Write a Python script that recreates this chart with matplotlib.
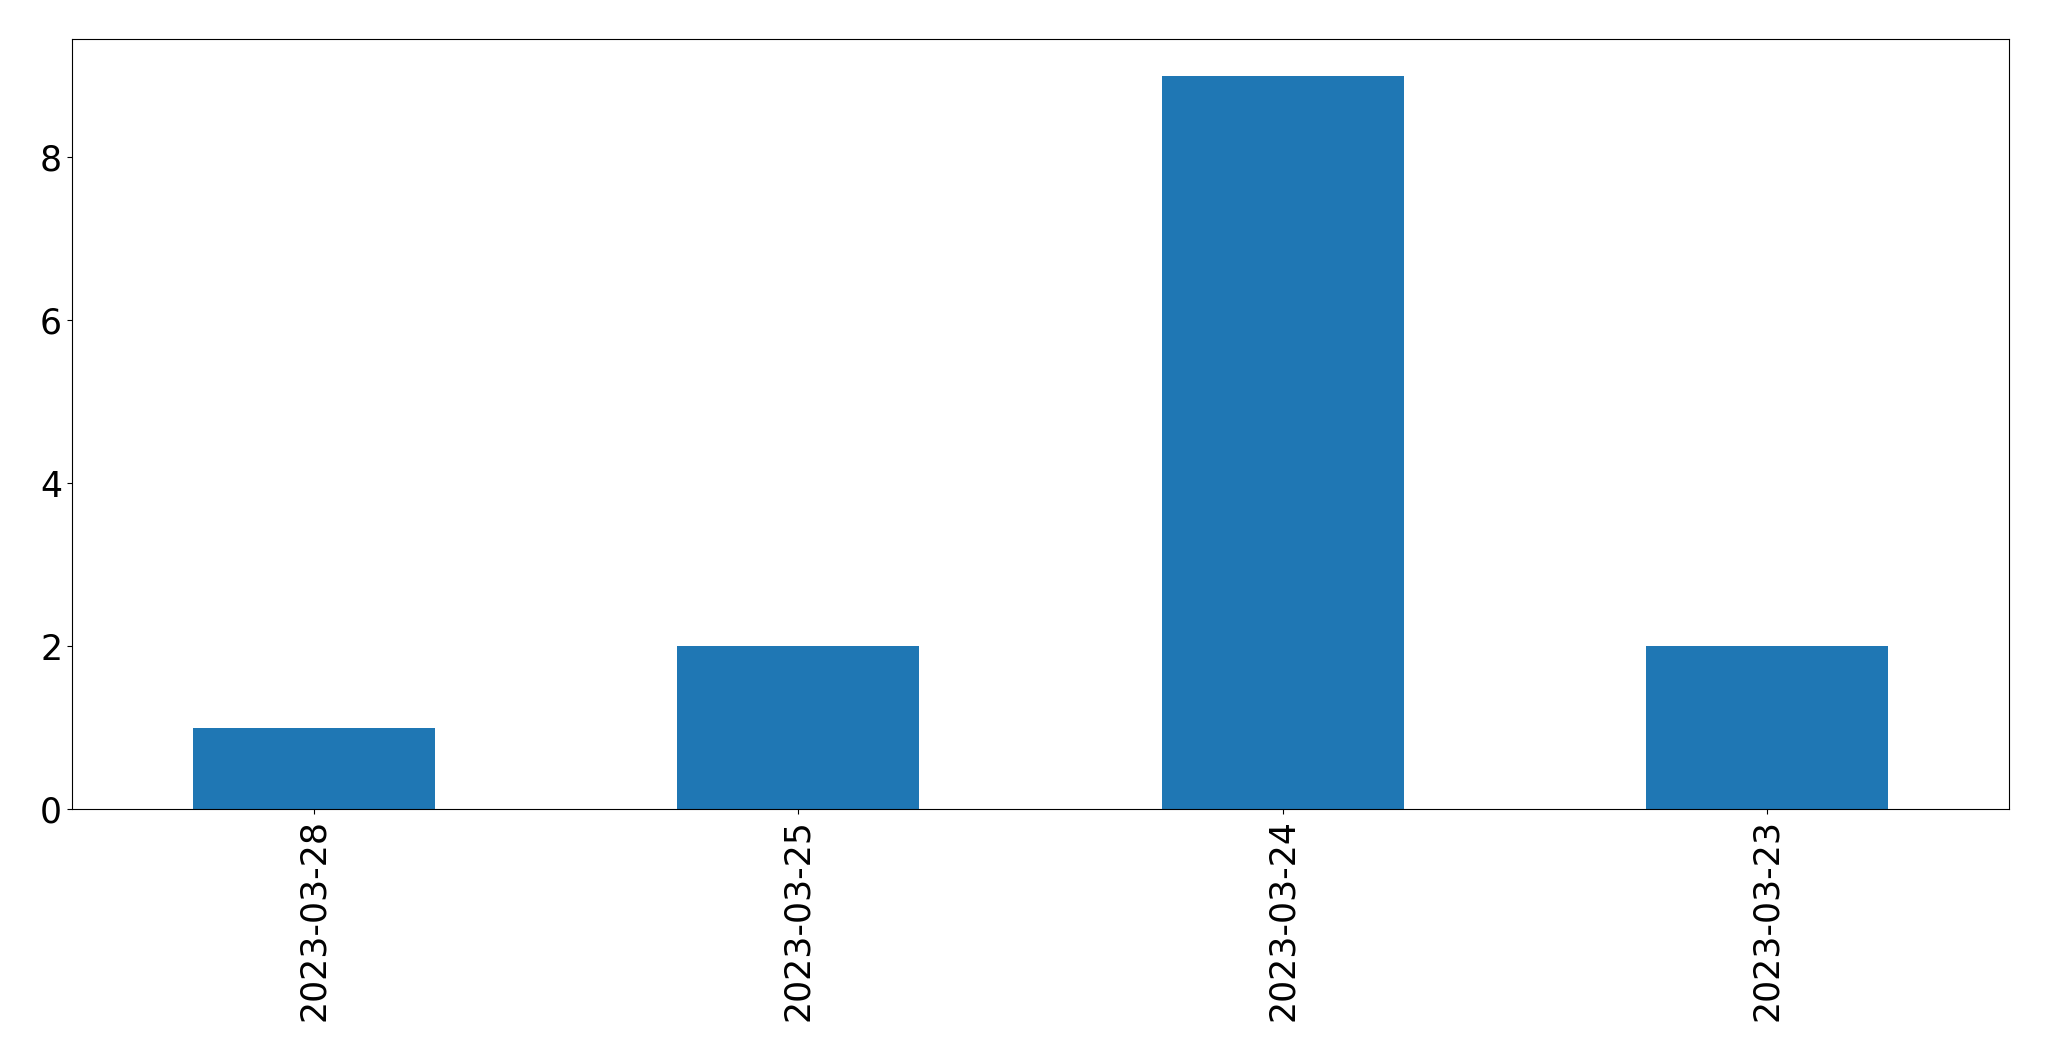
import matplotlib
matplotlib.use("Agg")
import matplotlib.pyplot as plt
import pandas as pd

dates = ["2023-03-28", "2023-03-25", "2023-03-24", "2023-03-23"]
counts = [1, 2, 9, 2]

s = pd.Series(counts, index=dates)

fig = plt.figure(figsize=(20.49, 10.61), dpi=100)
ax = fig.add_axes([0.0351, 0.2375, 0.9454, 0.7257])
s.plot(kind="bar", ax=ax, color="#1f77b4")
ax.tick_params(labelsize=25)
plt.setp(ax.get_xticklabels(), rotation=90)

plt.savefig("out.png", dpi=100)
